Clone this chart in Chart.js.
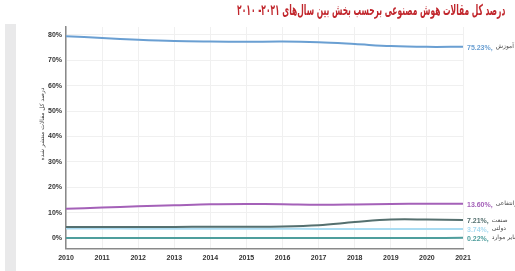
<!DOCTYPE html>
<html>
<head>
<meta charset="utf-8">
<script src="https://cdn.jsdelivr.net/npm/chart.js@4"></script>
<style>
  html, body { margin:0; padding:0; background:#fff; }
  #wrap { position:relative; width:515px; height:271px; overflow:hidden; }
  #band { position:absolute; left:5px; top:24px; width:11px; height:247px; background:#e9e9ea; }
  canvas { position:absolute; left:0; top:0; }
  #title { position:absolute; right:10px; top:1px; direction:rtl; white-space:nowrap;
           font-family:'DejaVu Sans Condensed','DejaVu Sans',sans-serif; font-weight:bold;
           font-size:15px; color:#c1272d; transform-origin:right top; }
</style>
</head>
<body>
<div id="wrap">
  <div id="band"></div>
  <canvas id="c" width="515" height="271" dir="rtl"></canvas>
  <div id="title">درصد کل مقالات هوش مصنوعی برحسب بخش بین سال‌های ۲۰۲۱- ۲۰۱۰</div>
</div>
<script>
// years on the x axis
const years = ["2010","2011","2012","2013","2014","2015","2016","2017","2018","2019","2020","2021"];

// series values (percent of all AI papers)
const education  = [79.4, 78.7, 78.0, 77.5, 77.3, 77.2, 77.3, 77.0, 76.3, 75.5, 75.2, 75.23];
const nonprofit  = [11.6, 12.1, 12.6, 13.0, 13.4, 13.5, 13.4, 13.2, 13.3, 13.5, 13.6, 13.60];
const industry   = [4.5, 4.5, 4.5, 4.5, 4.6, 4.6, 4.7, 5.2, 6.4, 7.4, 7.4, 7.21];
const government = [3.9, 3.9, 3.8, 3.8, 3.8, 3.8, 3.8, 3.7, 3.7, 3.7, 3.7, 3.74];
const other      = [0.2, 0.2, 0.2, 0.2, 0.2, 0.2, 0.2, 0.2, 0.2, 0.2, 0.2, 0.22];

// names shown at line ends
const names = ["آموزش", "غیرانتفاعی", "صنعت", "دولتی", "سایر موارد"];
const yTicks = [0, 10, 20, 30, 40, 50, 60, 70, 80];
const yTitle = "درصد کل مقالات منتشر شده";

const colors = ["#6a9fd2", "#a461b8", "#55706f", "#aadcf2", "#4f9e9d"];
const fa = "'DejaVu Sans', sans-serif";

// squeeze the title to the reference width
const t = document.getElementById("title");
t.style.transform = "scaleX(" + (268 / t.offsetWidth) + ")";

// end labels: value in series colour, then name in gray; plus the y axis title
const endLabels = {
  id: "endLabels",
  afterDatasetsDraw(chart) {
    const ctx = chart.ctx;
    ctx.save();
    ctx.textBaseline = "middle";
    ctx.textAlign = "left";
    chart.data.datasets.forEach((ds, i) => {
      const pts = chart.getDatasetMeta(i).data;
      const p = pts[pts.length - 1];
      const val = ds.data[ds.data.length - 1].toFixed(2) + "%,";
      let x = p.x + 4;
      ctx.direction = "ltr";
      ctx.font = "bold 7px 'Liberation Sans', Arial, sans-serif";
      ctx.fillStyle = ds.borderColor;
      ctx.fillText(val, x, p.y + 1);
      x += ctx.measureText(val).width + 3;
      ctx.direction = "rtl";
      ctx.font = "6px " + fa;
      ctx.fillStyle = "#444";
      ctx.fillText(ds.label, x, p.y);
    });
    // rotated y axis title, sitting a bit above the middle like the reference
    ctx.translate(42, 124);
    ctx.rotate(-Math.PI / 2);
    ctx.direction = "rtl";
    ctx.textAlign = "center";
    ctx.font = "6px " + fa;
    ctx.fillStyle = "#444";
    ctx.fillText(yTitle, 0, 0);
    ctx.restore();
  }
};

const series = [education, nonprofit, industry, government, other];

new Chart(document.getElementById("c"), {
  type: "line",
  data: {
    labels: years,
    datasets: series.map((d, i) => ({
      label: names[i],
      data: d,
      borderColor: colors[i],
      borderWidth: 2,
      pointRadius: 0,
      tension: 0.35,
      fill: false
    }))
  },
  options: {
    responsive: false,
    animation: false,
    layout: { padding: { left: 44, right: 52, top: 27, bottom: 4 } },
    plugins: {
      legend: { display: false },
      tooltip: { enabled: false },
      title: { display: false }
    },
    scales: {
      x: {
        offset: false,
        grid: { color: "#f0f0f0", drawTicks: false },
        border: { color: "#8a8a8a", width: 1.5 },
        ticks: { color: "#333", font: { size: 7, weight: "bold", family: "'Liberation Sans', Arial" }, padding: 5, maxRotation: 0 }
      },
      y: {
        min: -4,
        max: 83,
        afterBuildTicks: axis => { axis.ticks = yTicks.map(v => ({ value: v })); },
        grid: { color: "#f0f0f0", drawTicks: false },
        border: { color: "#8a8a8a", width: 1.5 },
        ticks: {
          color: "#333",
          font: { size: 7, weight: "bold", family: "'Liberation Sans', Arial" },
          padding: 4,
          callback: v => v + "%"
        }
      }
    }
  },
  plugins: [endLabels]
});
</script>
</body>
</html>
